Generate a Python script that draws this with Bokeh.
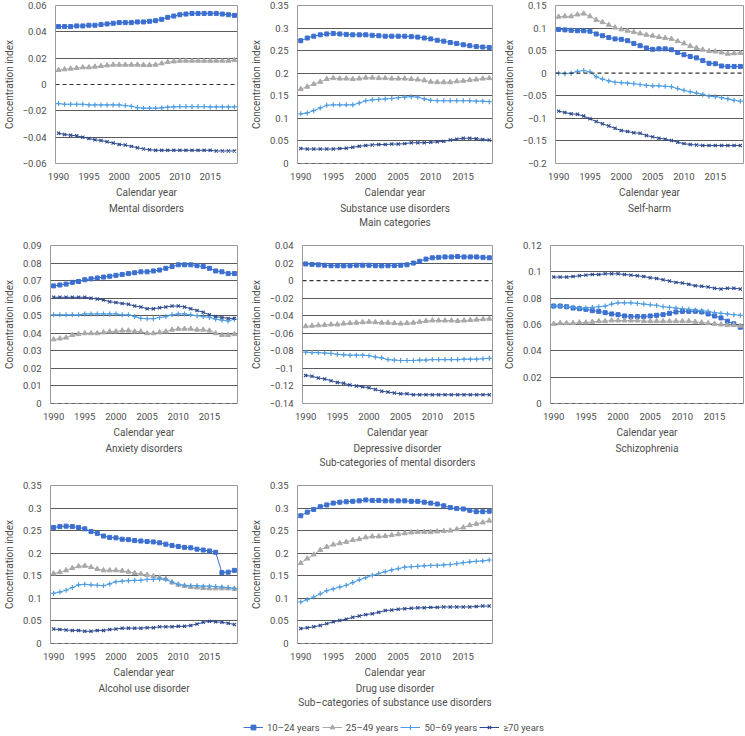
from bokeh.plotting import figure
from bokeh.models import Range1d, FixedTicker, Span, Title, Legend, LegendItem
from bokeh.layouts import column, row
from bokeh.embed import file_html
from bokeh.resources import INLINE

years = list(range(1990, 2020))
groups = ["10–24 years", "25–49 years", "50–69 years", "≥70 years"]
x_ticks = [1990, 1995, 2000, 2005, 2010, 2015]

# Mental disorders
mental_10_24 = [0.044,0.044,0.044,0.0445,0.0445, 0.045,0.045,0.0455,0.046,0.0465, 0.047,0.047,0.047,0.0475,0.0475, 0.048,0.0485,0.0495,0.051,0.052, 0.053,0.0535,0.054,0.054,0.054, 0.054,0.054,0.0535,0.053,0.0525]
mental_25_49 = [0.011,0.0115,0.012,0.0125,0.013, 0.013,0.0135,0.014,0.0145,0.015, 0.015,0.015,0.015,0.015,0.0148, 0.0147,0.015,0.016,0.017,0.0175, 0.018,0.018,0.018,0.018,0.018, 0.018,0.018,0.018,0.018,0.0185]
mental_50_69 = [-0.0145,-0.015,-0.015,-0.015,-0.015, -0.0155,-0.0155,-0.0155,-0.0155,-0.0155, -0.0155,-0.016,-0.0165,-0.0175,-0.018, -0.018,-0.018,-0.0178,-0.0172,-0.017, -0.0168,-0.0168,-0.0168,-0.0168,-0.0168, -0.017,-0.017,-0.017,-0.017,-0.017]
mental_70 = [-0.037,-0.038,-0.0385,-0.039,-0.040, -0.041,-0.042,-0.0425,-0.0435,-0.0445, -0.0455,-0.046,-0.047,-0.048,-0.049, -0.0495,-0.05,-0.05,-0.05,-0.05, -0.05,-0.05,-0.05,-0.05,-0.05, -0.05,-0.0505,-0.0505,-0.0505,-0.0505]

# Substance use disorders
subst_10_24 = [0.272,0.278,0.282,0.285,0.287, 0.288,0.287,0.286,0.285,0.285, 0.285,0.284,0.283,0.282,0.282, 0.282,0.282,0.281,0.280,0.278, 0.276,0.273,0.271,0.268,0.266, 0.263,0.261,0.259,0.258,0.257]
subst_25_49 = [0.165,0.170,0.176,0.181,0.187, 0.189,0.188,0.188,0.187,0.188, 0.190,0.190,0.189,0.189,0.188, 0.188,0.188,0.187,0.186,0.184, 0.181,0.180,0.180,0.180,0.182, 0.183,0.185,0.186,0.188,0.189]
subst_50_69 = [0.110,0.112,0.117,0.123,0.129, 0.130,0.130,0.130,0.130,0.134, 0.139,0.141,0.142,0.143,0.144, 0.146,0.147,0.148,0.147,0.143, 0.140,0.139,0.139,0.139,0.139, 0.139,0.139,0.138,0.138,0.137]
subst_70 = [0.033,0.032,0.032,0.032,0.032, 0.032,0.033,0.034,0.036,0.038, 0.040,0.041,0.042,0.042,0.043, 0.043,0.044,0.046,0.046,0.046, 0.047,0.048,0.049,0.052,0.054, 0.056,0.056,0.055,0.053,0.052]

# Self-harm
harm_10_24 = [0.097,0.096,0.095,0.094,0.094, 0.093,0.087,0.083,0.079,0.076, 0.075,0.072,0.066,0.061,0.056, 0.053,0.054,0.054,0.052,0.046, 0.041,0.037,0.034,0.028,0.022, 0.021,0.016,0.015,0.015,0.015]
harm_25_49 = [0.125,0.126,0.126,0.130,0.132, 0.126,0.118,0.113,0.107,0.101, 0.097,0.094,0.091,0.088,0.085, 0.083,0.080,0.078,0.076,0.071, 0.066,0.060,0.056,0.052,0.049, 0.048,0.046,0.043,0.044,0.045]
harm_50_69 = [0.000,-0.001,0.000,0.004,0.006, 0.003,-0.008,-0.013,-0.017,-0.020, -0.021,-0.022,-0.023,-0.025,-0.027, -0.028,-0.028,-0.029,-0.030,-0.034, -0.038,-0.041,-0.044,-0.047,-0.051, -0.052,-0.054,-0.057,-0.060,-0.062]
harm_70 = [-0.084,-0.087,-0.090,-0.091,-0.095, -0.101,-0.107,-0.112,-0.117,-0.122, -0.127,-0.129,-0.132,-0.133,-0.138, -0.141,-0.144,-0.146,-0.149,-0.153, -0.156,-0.158,-0.159,-0.160,-0.160, -0.160,-0.160,-0.160,-0.160,-0.160]

# Anxiety disorders
anx_10_24 = [0.067,0.0675,0.068,0.069,0.0695, 0.0705,0.071,0.0715,0.072,0.0725, 0.073,0.0735,0.074,0.0745,0.075, 0.075,0.0755,0.076,0.077,0.078, 0.079,0.079,0.079,0.0785,0.078, 0.077,0.0755,0.075,0.074,0.074]
anx_25_49 = [0.0365,0.037,0.0375,0.039,0.0395, 0.040,0.040,0.040,0.0405,0.041, 0.041,0.0415,0.0415,0.041,0.041, 0.040,0.040,0.0405,0.041,0.042, 0.0425,0.0425,0.0425,0.042,0.042, 0.0415,0.040,0.039,0.039,0.0395]
anx_50_69 = [0.0505,0.0505,0.0505,0.0505,0.0505, 0.051,0.051,0.051,0.051,0.051, 0.051,0.0505,0.0505,0.0495,0.0485, 0.0483,0.0483,0.049,0.0495,0.0505, 0.051,0.051,0.0505,0.050,0.0495, 0.049,0.048,0.0475,0.047,0.048]
anx_70 = [0.0605,0.0605,0.0605,0.0605,0.0605, 0.0605,0.060,0.0595,0.059,0.058, 0.0575,0.057,0.0565,0.0555,0.055, 0.054,0.054,0.0545,0.055,0.0555, 0.0555,0.055,0.054,0.053,0.052, 0.0505,0.0495,0.049,0.0485,0.0485]

# Depressive disorder
dep_10_24 = [0.019,0.0185,0.018,0.0175,0.017, 0.017,0.0168,0.017,0.0175,0.0175, 0.0175,0.017,0.0168,0.017,0.0172, 0.0175,0.018,0.020,0.022,0.0245, 0.026,0.0265,0.027,0.027,0.0275, 0.027,0.027,0.027,0.0265,0.026]
dep_25_49 = [-0.052,-0.0515,-0.051,-0.0505,-0.050, -0.050,-0.049,-0.0485,-0.048,-0.0475, -0.047,-0.0475,-0.048,-0.048,-0.0485, -0.049,-0.0485,-0.048,-0.047,-0.046, -0.0455,-0.0455,-0.0455,-0.0455,-0.046, -0.0455,-0.045,-0.0445,-0.044,-0.0435]
dep_50_69 = [-0.0815,-0.082,-0.082,-0.0825,-0.083, -0.084,-0.0845,-0.085,-0.085,-0.085, -0.0855,-0.087,-0.088,-0.090,-0.0905, -0.091,-0.091,-0.091,-0.0905,-0.0905, -0.090,-0.090,-0.090,-0.090,-0.090, -0.0895,-0.0895,-0.0895,-0.089,-0.0885]
dep_70 = [-0.108,-0.109,-0.111,-0.112,-0.114, -0.116,-0.117,-0.119,-0.120,-0.121, -0.122,-0.124,-0.126,-0.127,-0.128, -0.129,-0.129,-0.130,-0.130,-0.130, -0.130,-0.130,-0.130,-0.130,-0.130, -0.130,-0.130,-0.130,-0.130,-0.130]

# Schizophrenia
schiz_10_24 = [0.074,0.074,0.0735,0.0725,0.072, 0.0715,0.0705,0.070,0.069,0.068, 0.0675,0.0665,0.066,0.066,0.066, 0.0665,0.067,0.0675,0.0685,0.0695, 0.070,0.070,0.070,0.0695,0.068, 0.0665,0.065,0.0625,0.0605,0.058]
schiz_25_49 = [0.0605,0.061,0.061,0.061,0.0615, 0.0615,0.062,0.0625,0.0625,0.063, 0.063,0.063,0.063,0.063,0.0625, 0.0625,0.0625,0.0625,0.0625,0.0625, 0.0625,0.0625,0.062,0.0615,0.061, 0.0605,0.060,0.0595,0.0595,0.059]
schiz_50_69 = [0.074,0.0738,0.0735,0.073,0.0725, 0.0725,0.073,0.0735,0.074,0.0755, 0.0765,0.0765,0.0765,0.076,0.0755, 0.075,0.0745,0.0735,0.073,0.0725, 0.072,0.0715,0.071,0.0705,0.070, 0.069,0.0685,0.068,0.0675,0.067]
schiz_70 = [0.096,0.096,0.096,0.0965,0.097, 0.0975,0.098,0.098,0.0985,0.0985, 0.0985,0.098,0.0975,0.097,0.0965, 0.0955,0.095,0.094,0.093,0.092, 0.0915,0.0905,0.0895,0.089,0.0885, 0.0875,0.087,0.0875,0.0875,0.087]

# Alcohol use disorder
alc_10_24 = [0.257,0.259,0.260,0.259,0.257, 0.254,0.248,0.244,0.238,0.235, 0.234,0.231,0.230,0.228,0.227, 0.226,0.225,0.223,0.220,0.217, 0.215,0.213,0.212,0.209,0.207, 0.205,0.202,0.157,0.158,0.162]
alc_25_49 = [0.155,0.158,0.162,0.167,0.171, 0.172,0.169,0.165,0.162,0.162, 0.162,0.161,0.159,0.156,0.154, 0.152,0.149,0.146,0.143,0.135, 0.130,0.127,0.125,0.124,0.123, 0.122,0.122,0.122,0.122,0.121]
alc_50_69 = [0.111,0.114,0.118,0.124,0.130, 0.131,0.130,0.129,0.128,0.132, 0.137,0.138,0.139,0.140,0.140, 0.142,0.142,0.143,0.142,0.136, 0.131,0.129,0.128,0.128,0.127, 0.127,0.126,0.125,0.124,0.122]
alc_70 = [0.032,0.031,0.030,0.029,0.029, 0.027,0.027,0.029,0.029,0.031, 0.032,0.034,0.034,0.034,0.034, 0.035,0.035,0.037,0.037,0.037, 0.038,0.038,0.040,0.043,0.047, 0.049,0.048,0.047,0.045,0.042]

# Drug use disorder
drug_10_24 = [0.283,0.291,0.297,0.303,0.307, 0.311,0.313,0.314,0.315,0.316, 0.318,0.317,0.317,0.316,0.316, 0.316,0.316,0.315,0.315,0.313, 0.311,0.309,0.305,0.301,0.299, 0.298,0.295,0.292,0.292,0.293]
drug_25_49 = [0.178,0.188,0.197,0.207,0.214, 0.219,0.222,0.225,0.229,0.231, 0.235,0.237,0.237,0.238,0.240, 0.242,0.244,0.246,0.247,0.247, 0.247,0.248,0.249,0.250,0.253, 0.257,0.262,0.265,0.268,0.272]
drug_50_69 = [0.092,0.097,0.103,0.110,0.117, 0.121,0.125,0.129,0.135,0.141, 0.146,0.151,0.155,0.159,0.163, 0.166,0.169,0.170,0.171,0.172, 0.173,0.173,0.174,0.175,0.177, 0.179,0.181,0.182,0.183,0.185]
drug_70 = [0.033,0.035,0.037,0.040,0.044, 0.048,0.051,0.054,0.058,0.061, 0.064,0.066,0.069,0.073,0.074, 0.076,0.077,0.078,0.079,0.079, 0.080,0.080,0.081,0.081,0.081, 0.081,0.081,0.082,0.083,0.083]

FONT = "Roboto"
TXT = "#4d4d4d"
COLORS = ["#3b6fd0", "#a9a9a9", "#4f9de2", "#2d4a8f"]
MARKERS = ["square", "triangle", "cross", "x"]
MSIZE = [4, 5, 5, 4.5]
MLW = [1, 1, 1.2, 1.1]

TOP, FRAME_H, BOT = 5, 158, 77


def tick_list(lo, hi, step):
    n = int(round((hi - lo) / step))
    out = []
    for i in range(n + 1):
        v = round(lo + i * step, 4)
        if abs(v) < 1e-9:
            v = 0.0
        out.append(v)
    return out


def fmt(v):
    if v == 0:
        return "0"
    s = f"{abs(v):g}"
    return ("\u2212" + s) if v < 0 else s


def panel(name, lo, hi, step, series, bl, fw, br, extra=None):
    w = bl + fw + br
    p = figure(width=w, height=TOP + FRAME_H + BOT, output_backend="svg", toolbar_location=None,
               x_range=Range1d(1989.5, 2019.5), y_range=Range1d(lo, hi),
               min_border_left=bl, min_border_right=br, min_border_top=TOP, min_border_bottom=BOT)
    ticks = tick_list(lo, hi, step)
    p.yaxis.ticker = FixedTicker(ticks=ticks)
    p.yaxis.major_label_overrides = {t: fmt(t) for t in ticks}
    p.xaxis.ticker = FixedTicker(ticks=x_ticks)
    p.ygrid.ticker = FixedTicker(ticks=[t for t in ticks if t != 0])
    p.xgrid.visible = False
    p.ygrid.grid_line_color = "#5a5a5a"
    p.ygrid.grid_line_width = 1
    p.outline_line_color = "#9a9a9a"
    for ax in (p.xaxis, p.yaxis):
        ax.axis_line_color = None
        ax.major_tick_line_color = None
        ax.minor_tick_line_color = None
        ax.major_label_text_font = FONT
        ax.major_label_text_font_size = "9.5px"
        ax.major_label_text_color = TXT
        ax.axis_label_text_font = FONT
        ax.axis_label_text_font_size = "10px"
        ax.axis_label_text_font_style = "normal"
        ax.axis_label_text_color = TXT
        ax.major_label_standoff = 3
    p.xaxis.axis_label = "Calendar year"
    p.yaxis.axis_label = "Concentration index"
    p.xaxis.axis_label_standoff = 4
    p.yaxis.axis_label_standoff = 5
    p.add_layout(Span(location=0, dimension="width", line_color="#333333", line_width=1.2, line_dash="4 3"))
    for k, ys in enumerate(series):
        p.line(years, ys, line_color=COLORS[k], line_width=1)
        p.scatter(years, ys, marker=MARKERS[k], size=MSIZE[k], fill_color=COLORS[k],
                  line_color=COLORS[k], line_width=MLW[k])
    for t in [name] + ([extra] if extra else []):
        p.add_layout(Title(text=t, align="center", text_font=FONT, text_font_size="10px",
                           text_font_style="normal", text_color=TXT, standoff=1), "below")
    return p


p1 = panel("Mental disorders", -0.06, 0.06, 0.02, [mental_10_24, mental_25_49, mental_50_69, mental_70], 45, 192, 10)
p2 = panel("Substance use disorders", 0, 0.35, 0.05, [subst_10_24, subst_25_49, subst_50_69, subst_70], 45, 200, 8, "Main categories")
p3 = panel("Self-harm", -0.2, 0.15, 0.05, [harm_10_24, harm_25_49, harm_50_69, harm_70], 48, 195, 1)
p4 = panel("Anxiety disorders", 0, 0.09, 0.01, [anx_10_24, anx_25_49, anx_50_69, anx_70], 45, 192, 10)
p5 = panel("Depressive disorder", -0.14, 0.04, 0.02, [dep_10_24, dep_25_49, dep_50_69, dep_70], 45, 200, 8, "Sub-categories of mental disorders")
p6 = panel("Schizophrenia", 0, 0.12, 0.02, [schiz_10_24, schiz_25_49, schiz_50_69, schiz_70], 48, 195, 1)
p7 = panel("Alcohol use disorder", 0, 0.35, 0.05, [alc_10_24, alc_25_49, alc_50_69, alc_70], 45, 192, 10)
p8 = panel("Drug use disorder", 0, 0.35, 0.05, [drug_10_24, drug_25_49, drug_50_69, drug_70], 45, 200, 8, "Sub\u2013categories of substance use disorders")

lf = figure(width=744, height=14, output_backend="svg", toolbar_location=None,
            x_range=Range1d(0, 1), y_range=Range1d(0, 1), min_border=0,
            x_axis_location=None, y_axis_location=None)
lf.grid.visible = False
lf.outline_line_color = None
items = []
for k, g in enumerate(groups):
    r1 = lf.line([5, 6], [5, 6], line_color=COLORS[k], line_width=1)
    r2 = lf.scatter([5.5], [5.5], marker=MARKERS[k], size=MSIZE[k], fill_color=COLORS[k],
                    line_color=COLORS[k], line_width=MLW[k])
    items.append(LegendItem(label=g, renderers=[r1, r2]))
leg = Legend(items=items, orientation="horizontal", location=(243, 1), glyph_width=20, glyph_height=12,
             label_height=12, label_text_font=FONT, label_text_font_size="9.5px", label_text_color=TXT,
             label_standoff=4, spacing=2, padding=0, margin=0, border_line_color=None,
             background_fill_alpha=0)
lf.add_layout(leg)

layout = column(row(p1, p2, p3), row(p4, p5, p6), row(p7, p8), lf, spacing=0)
open("out.html", "w").write(file_html(layout, INLINE))
